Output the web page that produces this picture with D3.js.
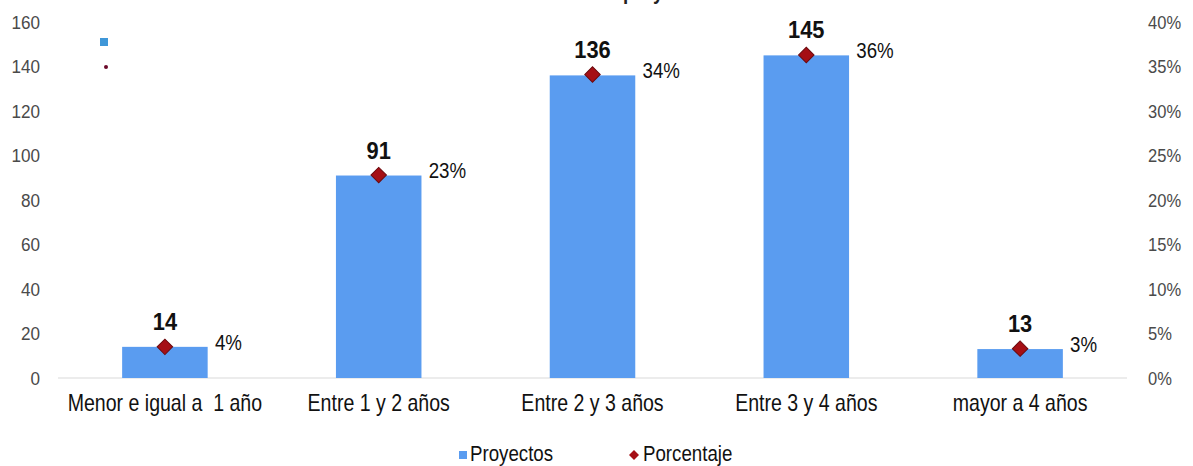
<!DOCTYPE html>
<html>
<head>
<meta charset="utf-8">
<script src="https://cdn.jsdelivr.net/npm/d3@7/dist/d3.min.js"></script>
<style>
  html, body { margin: 0; padding: 0; background: #fff; }
  svg { display: block; font-family: "Liberation Sans", Arial, sans-serif; }
  text { white-space: pre; }
</style>
</head>
<body>
<svg id="chart" width="1193" height="466"></svg>
<script>
// ---- data ----
const categories = ["Menor e igual a  1 año", "Entre 1 y 2 años", "Entre 2 y 3 años", "Entre 3 y 4 años", "mayor a 4 años"];
const proyectos = [14, 91, 136, 145, 13];
const porcentaje = [3.5, 22.8, 34.1, 36.3, 3.3];
const porcentajeLabels = ["4%", "23%", "34%", "36%", "3%"];
const leftTicks = [0, 20, 40, 60, 80, 100, 120, 140, 160];
const rightTicks = [0, 5, 10, 15, 20, 25, 30, 35, 40];
const titleText = "Distribución de la duración de los proyectos en años";

// ---- layout ----
const FONT = "Liberation Sans, Arial, sans-serif";
const NARROW = 0.85; // condensed look of the source font
const svg = d3.select("#chart");
const plot = { left: 58, right: 1127, top: 22, bottom: 378 };

const x = d3.scaleBand().domain(categories).range([plot.left, plot.right]).paddingInner(0.6).paddingOuter(0.3);
const yL = d3.scaleLinear().domain([0, 160]).range([plot.bottom, plot.top]);
const yR = d3.scaleLinear().domain([0, 40]).range([plot.bottom, plot.top]);

const barColor = "#5a9cf0";
const markColor = "#a50f15";

function narrowText(g, px, py, sx) {
  return g.append("text").attr("transform", `translate(${px},${py}) scale(${sx},1)`);
}

// title (cut off at the top, as in the source image)
const title = narrowText(svg, 590, -1, NARROW).attr("text-anchor", "middle")
  .attr("font-size", 22).attr("font-weight", "bold").attr("fill", "#222").text(titleText);
try {
  const node = title.node();
  const idx = titleText.indexOf("proyectos");
  const pStart = node.getStartPositionOfChar(idx).x * NARROW + 590;
  title.attr("transform", `translate(${590 + (623 - pStart)},-1) scale(${NARROW},1)`);
} catch (e) {}

// left axis
const axL = svg.append("g").attr("transform", `translate(40,0)`)
  .call(d3.axisLeft(yL).tickValues(leftTicks).tickSize(0).tickPadding(0));
axL.select(".domain").remove();
axL.selectAll("text").attr("font-size", 19).attr("fill", "#4a4a4a").attr("font-family", FONT)
  .attr("transform", "scale(0.9,1)");

// right axis
const axR = svg.append("g").attr("transform", `translate(1148,0)`)
  .call(d3.axisRight(yR).tickValues(rightTicks).tickFormat(d => d + "%").tickSize(0).tickPadding(0));
axR.select(".domain").remove();
axR.selectAll("text").attr("font-size", 19).attr("fill", "#4a4a4a").attr("font-family", FONT)
  .attr("transform", "scale(0.87,1)");

// baseline
svg.append("line").attr("x1", plot.left).attr("x2", plot.right)
  .attr("y1", yL(0)).attr("y2", yL(0)).attr("stroke", "#d9d9d9").attr("stroke-width", 1);

// bars
svg.append("g").selectAll("rect").data(proyectos).join("rect")
  .attr("x", (d, i) => x(categories[i]))
  .attr("width", x.bandwidth())
  .attr("y", d => yL(d))
  .attr("height", d => yL(0) - yL(d))
  .attr("fill", barColor);

// category labels
const axB = svg.append("g").attr("transform", `translate(0,${plot.bottom})`)
  .call(d3.axisBottom(x).tickSize(0).tickPadding(17));
axB.select(".domain").remove();
axB.selectAll("text").attr("font-size", 23).attr("fill", "#111").attr("font-family", FONT)
  .style("white-space", "pre").attr("transform", `scale(${NARROW},1)`);

// value labels
const vl = svg.append("g");
proyectos.forEach((d, i) => {
  narrowText(vl, x(categories[i]) + x.bandwidth() / 2, yL(d) - 17, 0.95)
    .attr("text-anchor", "middle").attr("font-size", 23).attr("font-weight", "bold").attr("fill", "#111")
    .text(d);
});

// diamonds
svg.append("g").selectAll("path").data(porcentaje).join("path")
  .attr("d", d3.symbol().type(d3.symbolSquare).size(120))
  .attr("transform", (d, i) => `translate(${x(categories[i]) + x.bandwidth() / 2},${yR(d)}) rotate(45)`)
  .attr("fill", markColor).attr("stroke", "#6b0a0e").attr("stroke-width", 1);

// percent labels
const pl = svg.append("g");
porcentaje.forEach((d, i) => {
  narrowText(pl, x(categories[i]) + x.bandwidth() / 2 + 50, yR(d) + 3, NARROW)
    .attr("font-size", 22).attr("fill", "#111").text(porcentajeLabels[i]);
});

// stray legend artifacts top-left
svg.append("rect").attr("x", 100).attr("y", 38).attr("width", 8).attr("height", 8).attr("fill", "#3f97d8");
svg.append("circle").attr("cx", 106).attr("cy", 67).attr("r", 2).attr("fill", "#6b0a2a");

// legend
const lg = svg.append("g");
lg.append("rect").attr("x", 459).attr("y", 451).attr("width", 8).attr("height", 8).attr("fill", barColor);
narrowText(lg, 470, 461, NARROW).attr("font-size", 22).attr("fill", "#111").text("Proyectos");
lg.append("path").attr("d", d3.symbol().type(d3.symbolSquare).size(50))
  .attr("transform", "translate(634,455) rotate(45)").attr("fill", markColor);
narrowText(lg, 643, 461, NARROW).attr("font-size", 22).attr("fill", "#111").text("Porcentaje");
</script>
</body>
</html>
